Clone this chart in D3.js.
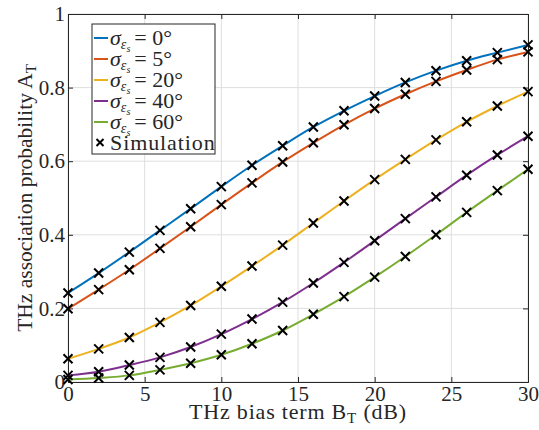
<!DOCTYPE html>
<html>
<head>
<meta charset="utf-8">
<script src="https://cdn.jsdelivr.net/npm/d3@7"></script>
<style>
  body { margin: 0; background: #fff; }
  svg text { font-family: "Liberation Serif", "DejaVu Serif", serif; fill: #262626; }
</style>
</head>
<body>
<script>
var w = 539, h = 430;
var margin = {top: 14, right: 11, bottom: 48, left: 68};

// data
var biasDb = [0, 2, 4, 6, 8, 10, 12, 14, 16, 18, 20, 22, 24, 26, 28, 30];
var sigmaDeg = ["0", "5", "20", "40", "60"];
var prob0 = [0.242, 0.296, 0.353, 0.412, 0.471, 0.531, 0.589, 0.642, 0.693, 0.737, 0.777, 0.814, 0.846, 0.873, 0.895, 0.916];
var prob5 = [0.199, 0.251, 0.305, 0.363, 0.422, 0.482, 0.541, 0.598, 0.650, 0.699, 0.743, 0.782, 0.817, 0.848, 0.876, 0.897];
var prob20 = [0.063, 0.090, 0.121, 0.162, 0.208, 0.260, 0.315, 0.372, 0.432, 0.492, 0.550, 0.605, 0.658, 0.707, 0.750, 0.789];
var prob40 = [0.018, 0.028, 0.046, 0.067, 0.095, 0.130, 0.171, 0.217, 0.269, 0.325, 0.384, 0.444, 0.503, 0.562, 0.617, 0.668];
var prob60 = [0.007, 0.011, 0.018, 0.033, 0.051, 0.074, 0.104, 0.140, 0.184, 0.232, 0.285, 0.341, 0.400, 0.461, 0.520, 0.578];
var xTicks = [0, 5, 10, 15, 20, 25, 30];
var yTicks = [0, 0.2, 0.4, 0.6, 0.8, 1];
var yTickLabels = ["0", "0.2", "0.4", "0.6", "0.8", "1"];

var series = [prob0, prob5, prob20, prob40, prob60];
var colors = ["#0072BD", "#D95319", "#EDB120", "#7E2F8E", "#77AC30"];

var iw = w - margin.left - margin.right,
    ih = h - margin.top - margin.bottom;

var xScale = d3.scaleLinear().domain([0, 30]).range([0, iw]);
var yScale = d3.scaleLinear().domain([0, 1]).range([ih, 0]);

var svg = d3.select("body")
    .append("svg")
    .attr("width", w)
    .attr("height", h);

var g = svg.append("g")
    .attr("transform", "translate(" + margin.left + "," + margin.top + ")");

// grid
g.selectAll("line.gx")
    .data(xTicks)
    .enter()
    .append("line")
    .attr("x1", function (d) { return xScale(d); })
    .attr("x2", function (d) { return xScale(d); })
    .attr("y1", 0)
    .attr("y2", ih)
    .attr("stroke", "#dedede")
    .attr("stroke-width", 1);
g.selectAll("line.gy")
    .data(yTicks)
    .enter()
    .append("line")
    .attr("x1", 0)
    .attr("x2", iw)
    .attr("y1", function (d) { return yScale(d); })
    .attr("y2", function (d) { return yScale(d); })
    .attr("stroke", "#dedede")
    .attr("stroke-width", 1);

// axes (inward ticks, box)
var xAxis = d3.axisBottom(xScale).tickValues(xTicks).tickSize(-5).tickPadding(4).tickFormat(d3.format("d"));
var yAxis = d3.axisLeft(yScale).tickValues(yTicks).tickSize(-5).tickPadding(3)
    .tickFormat(function (d, i) { return yTickLabels[i]; });
var xTop = d3.axisTop(xScale).tickValues(xTicks).tickSize(-5).tickFormat("");
var yRight = d3.axisRight(yScale).tickValues(yTicks).tickSize(-5).tickFormat("");

g.append("g").attr("transform", "translate(0," + ih + ")").call(xAxis);
g.append("g").call(yAxis);
g.append("g").call(xTop);
g.append("g").attr("transform", "translate(" + iw + ",0)").call(yRight);
g.selectAll(".domain").attr("stroke", "#262626");
g.selectAll(".tick line").attr("stroke", "#262626");
g.selectAll(".tick text")
    .style("font-family", "'Liberation Serif', serif")
    .style("font-size", "21px")
    .style("fill", "#262626");

// curves
var line = d3.line()
    .x(function (d, i) { return xScale(biasDb[i]); })
    .y(function (d) { return yScale(d); })
    .curve(d3.curveMonotoneX);

g.selectAll("path.curve")
    .data(series)
    .enter()
    .append("path")
    .attr("d", line)
    .attr("fill", "none")
    .attr("stroke", function (d, i) { return colors[i]; })
    .attr("stroke-width", 2);

// simulation markers
var pts = [];
series.forEach(function (s) {
    s.forEach(function (v, i) { pts.push([biasDb[i], v]); });
});
var m = 4.5;
g.selectAll("path.cross")
    .data(pts)
    .enter()
    .append("path")
    .attr("d", function (d) {
        var cx = xScale(d[0]), cy = yScale(d[1]);
        return "M" + (cx - m) + "," + (cy - m) + "L" + (cx + m) + "," + (cy + m) +
            "M" + (cx - m) + "," + (cy + m) + "L" + (cx + m) + "," + (cy - m);
    })
    .attr("stroke", "#000")
    .attr("stroke-width", 2)
    .attr("fill", "none");

// axis titles
svg.append("text")
    .attr("x", margin.left + iw / 2)
    .attr("y", 419)
    .attr("text-anchor", "middle")
    .style("font-size", "22px")
    .style("letter-spacing", "0.8px")
    .html('THz bias term B<tspan font-size="15px" dy="4">T</tspan><tspan dy="-4"> (dB)</tspan>');

svg.append("text")
    .attr("transform", "translate(32," + (margin.top + ih / 2) + ") rotate(-90)")
    .attr("text-anchor", "middle")
    .style("font-size", "21.5px")
    .html('THz association probability A<tspan font-size="15px" dy="4">T</tspan>');

// legend
var leg = svg.append("g").attr("transform", "translate(92,24)");
leg.append("rect")
    .attr("width", 123)
    .attr("height", 130)
    .attr("fill", "#fff")
    .attr("stroke", "#262626")
    .attr("stroke-width", 1);

var rows = leg.selectAll("g.row")
    .data(sigmaDeg)
    .enter()
    .append("g")
    .attr("transform", function (d, i) { return "translate(0," + (14 + i * 21) + ")"; });
rows.append("line")
    .attr("x1", 2).attr("x2", 16)
    .attr("y1", 0).attr("y2", 0)
    .attr("stroke", function (d, i) { return colors[i]; })
    .attr("stroke-width", 2);
rows.append("text")
    .attr("x", 18)
    .attr("y", 7)
    .style("font-size", "22px")
    .html(function (d) {
        return '<tspan font-style="italic">σ</tspan>' +
            '<tspan font-style="italic" font-size="14px" dy="4">ε</tspan>' +
            '<tspan font-style="italic" font-size="10px" dy="3">s</tspan>' +
            '<tspan dy="-7" dx="4">= ' + d + '°</tspan>';
    });

var simRow = leg.append("g").attr("transform", "translate(0," + (14 + 5 * 21) + ")");
simRow.append("path")
    .attr("d", "M4.5,-4L11.5,3M4.5,3L11.5,-4")
    .attr("stroke", "#000")
    .attr("stroke-width", 2);
simRow.append("text")
    .attr("x", 18)
    .attr("y", 7)
    .style("font-size", "22px")
    .style("letter-spacing", "0.9px")
    .text("Simulation");
</script>
</body>
</html>
